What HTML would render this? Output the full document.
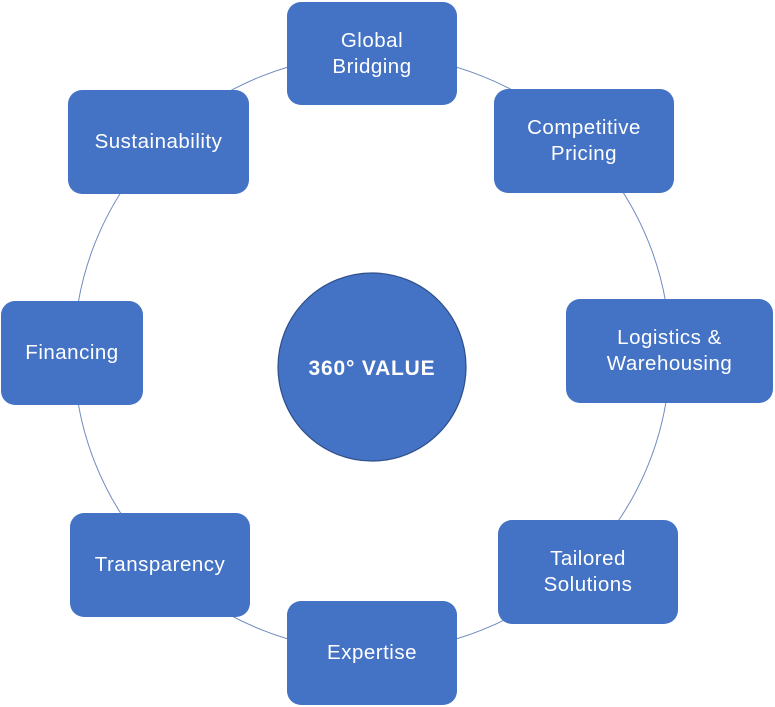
<!DOCTYPE html>
<html><head><meta charset="utf-8"><style>
body{margin:0;width:775px;height:707px;background:#fff;position:relative;overflow:hidden;font-family:"Liberation Sans",sans-serif}
.b{position:absolute;background:#4472C4;border-radius:14px;color:#fff;display:flex;align-items:center;justify-content:center;text-align:center;font-size:20.5px;letter-spacing:0.5px;line-height:26px}
svg{position:absolute;left:0;top:0}
</style></head><body>
<svg width="775" height="707"><circle cx="372" cy="353" r="298" fill="none" stroke="#6f8bbf" stroke-width="1"/>
<circle cx="372" cy="367" r="94" fill="#4472C4" stroke="#2f4f8a" stroke-width="1.2"/>
<text x="372" y="375" fill="#fff" font-family="Liberation Sans,sans-serif" font-weight="bold" font-size="21" letter-spacing="0.8" text-anchor="middle">360° VALUE</text></svg>
<div class="b" style="left:287px;top:2px;width:170px;height:103px">Global<br>Bridging</div>
<div class="b" style="left:494px;top:89px;width:180px;height:104px">Competitive<br>Pricing</div>
<div class="b" style="left:68px;top:90px;width:181px;height:104px">Sustainability</div>
<div class="b" style="left:1px;top:301px;width:142px;height:104px">Financing</div>
<div class="b" style="left:566px;top:299px;width:207px;height:104px">Logistics &amp;<br>Warehousing</div>
<div class="b" style="left:70px;top:513px;width:180px;height:104px">Transparency</div>
<div class="b" style="left:498px;top:520px;width:180px;height:104px">Tailored<br>Solutions</div>
<div class="b" style="left:287px;top:601px;width:170px;height:104px">Expertise</div>
</body></html>
